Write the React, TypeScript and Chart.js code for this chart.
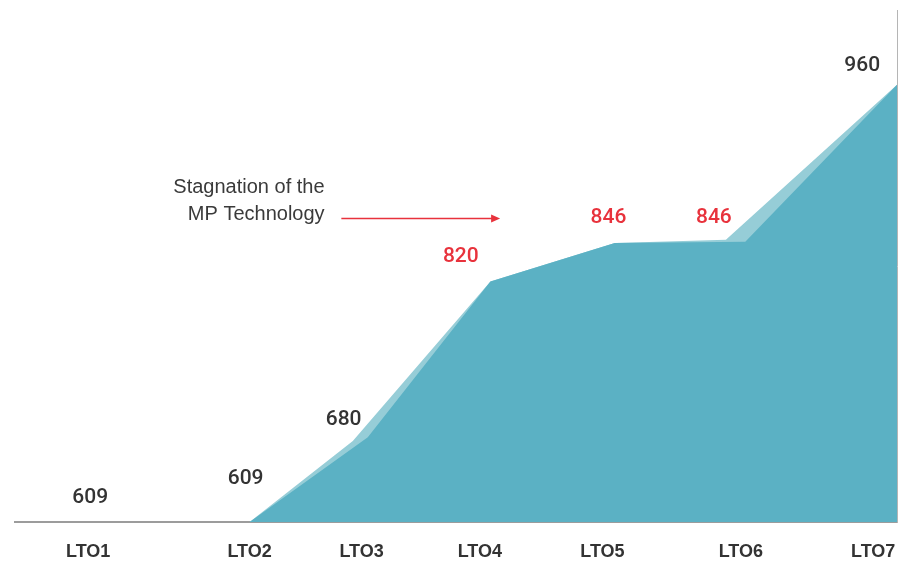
import { useEffect, useRef } from 'react';
import { Chart, registerables } from 'chart.js';

Chart.register(...registerables);

// ---- data ----
const categories = ['LTO1', 'LTO2', 'LTO3', 'LTO4', 'LTO5', 'LTO6', 'LTO7'];
// positions of the categories along the (uneven) horizontal axis, axis units 0..10
const categoryPositions = [0.83, 2.66, 3.93, 5.27, 6.66, 8.23, 9.73];
// printed values
const capacityValues = [609, 609, 680, 820, 846, 846, 960];
const highlighted = [false, false, false, true, true, true, false];
// front (dark) area as drawn in the picture
const frontX = [0.83, 2.66, 4.0, 5.39, 6.8, 8.28, 10];
const frontY = [609, 609, 677, 802, 833, 834, 960];
// back (light) area as drawn in the picture
const backX = [0.83, 2.66, 3.83, 5.39, 6.8, 8.06, 10];
const backY = [609, 609, 674, 802, 833, 835.5, 960];
const annotationLines = ['Stagnation of the', 'MP Technology'];

// ---- styles ----
const DARK = '#5bb1c4';
const LIGHT = '#96cdd7';
const TEXT = '#333333';
const RED = '#e8323c';
const LABEL_DX = [2, -4, -18, -19, 6, -27, -11];
const LABEL_DY = [-24, -43, -18, -25, -25, -24, -19];
const NOTE = { textX: 3.51, lineY: [877.5, 855.6], arrowFrom: 3.7, arrowTo: 5.5, arrowY: 853 };

const labelsPlugin = {
  id: 'valueLabels',
  afterDatasetsDraw(chart: any) {
    const { ctx, scales } = chart;
    const xs = scales.x;
    const ys = scales.y;
    ctx.save();
    ctx.font = '500 21px Roboto, "Liberation Sans", sans-serif';
    ctx.textAlign = 'center';
    ctx.textBaseline = 'middle';
    capacityValues.forEach((v, i) => {
      const x = xs.getPixelForValue(categoryPositions[i]) + LABEL_DX[i];
      const y = ys.getPixelForValue(frontY[i]) + LABEL_DY[i];
      ctx.fillStyle = highlighted[i] ? RED : TEXT;
      ctx.fillText(String(v), x, y);
    });

    // annotation
    ctx.font = '20px "Liberation Sans", Arial, sans-serif';
    ctx.fillStyle = '#3a3a3a';
    ctx.textAlign = 'right';
    const tx = xs.getPixelForValue(NOTE.textX);
    annotationLines.forEach((t, i) => {
      ctx.fillText(t, tx, ys.getPixelForValue(NOTE.lineY[i]));
    });
    const ax0 = xs.getPixelForValue(NOTE.arrowFrom);
    const ax1 = xs.getPixelForValue(NOTE.arrowTo);
    const ay = Math.round(ys.getPixelForValue(NOTE.arrowY)) + 0.5;
    ctx.strokeStyle = RED;
    ctx.fillStyle = RED;
    ctx.lineWidth = 1.5;
    ctx.beginPath();
    ctx.moveTo(ax0, ay);
    ctx.lineTo(ax1 - 7, ay);
    ctx.stroke();
    ctx.beginPath();
    ctx.moveTo(ax1, ay);
    ctx.lineTo(ax1 - 9, ay - 4);
    ctx.lineTo(ax1 - 9, ay + 4);
    ctx.closePath();
    ctx.fill();
    ctx.restore();
  },
};

export default function App() {
  const ref = useRef<HTMLCanvasElement>(null);
  useEffect(() => {
    if (!ref.current) return;
    const chart = new Chart(ref.current, {
      type: 'line',
      data: {
        datasets: [
          {
            data: frontX.map((x, i) => ({ x, y: frontY[i] })),
            backgroundColor: DARK,
            borderWidth: 0,
            pointRadius: 0,
            tension: 0,
            fill: 'start',
          },
          {
            data: backX.map((x, i) => ({ x, y: backY[i] })),
            backgroundColor: LIGHT,
            borderWidth: 0,
            pointRadius: 0,
            tension: 0,
            fill: 'start',
          },
        ],
      },
      options: {
        animation: false,
        responsive: false,
        maintainAspectRatio: false,
        devicePixelRatio: 1,
        layout: { padding: { left: 15, right: 2, top: 10, bottom: 0 } },
        plugins: { legend: { display: false }, tooltip: { enabled: false } },
        scales: {
          x: {
            type: 'linear',
            min: 0,
            max: 10,
            position: 'bottom',
            z: 1,
            grid: { display: true, drawOnChartArea: false, drawTicks: false },
            border: { display: true, color: '#9c9c9c', width: 2 },
            afterBuildTicks: (scale: any) => {
              scale.ticks = categoryPositions.map((v) => ({ value: v }));
            },
            afterFit: (scale: any) => {
              scale.height = 40;
              scale.paddingLeft = 0;
              scale.paddingRight = 0;
            },
            ticks: {
              autoSkip: false,
              maxRotation: 0,
              minRotation: 0,
              padding: 19,
              color: TEXT,
              font: { family: '"Liberation Sans", Arial, sans-serif', size: 18, weight: 'bold' },
              callback: (_v: any, i: number) => categories[i],
            },
          },
          y: {
            type: 'linear',
            min: 609,
            max: 1020,
            position: 'right',
            grid: { display: true, drawOnChartArea: false, drawTicks: false },
            border: { display: true, color: '#b5b5b5', width: 1 },
            ticks: { display: false },
            afterFit: (scale: any) => {
              scale.width = 0;
              scale.paddingTop = 0;
              scale.paddingBottom = 0;
            },
          },
        },
      },
      plugins: [labelsPlugin],
    } as any);
    return () => chart.destroy();
  }, []);
  return (
    <div style={{ position: 'absolute', left: 0, top: 0, width: 899, height: 562, background: '#fff' }}>
      <canvas ref={ref} width={899} height={562} style={{ display: 'block' }} />
    </div>
  );
}
